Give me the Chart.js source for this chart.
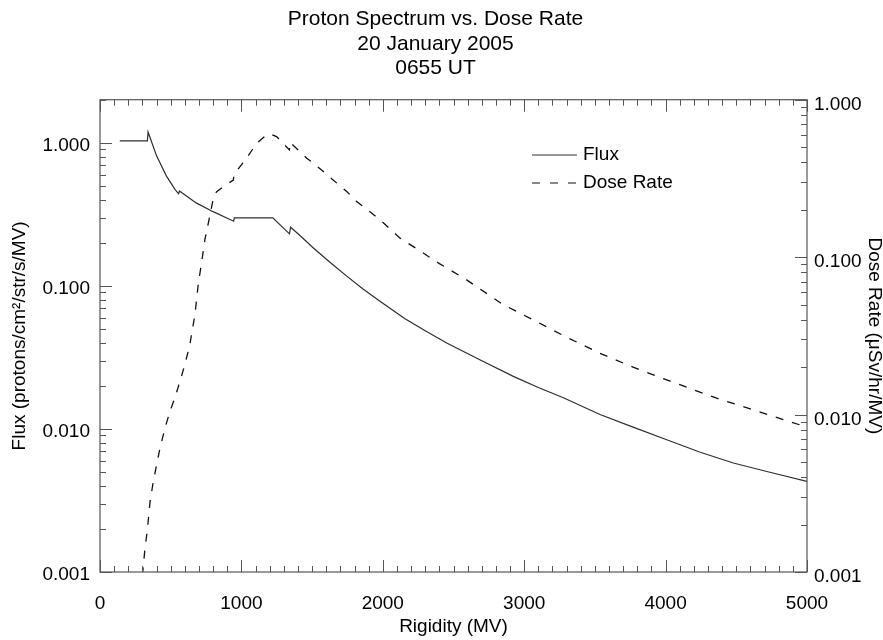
<!DOCTYPE html>
<html><head><meta charset="utf-8">
<script src="https://cdn.jsdelivr.net/npm/chart.js@4.4.1/dist/chart.umd.min.js"></script>
<style>html,body{margin:0;padding:0;background:#fff}</style>
</head><body>
<canvas id="c" width="883" height="640"></canvas>
<script>
const titleLines = ['Proton Spectrum vs. Dose Rate', '20 January 2005', '0655 UT'];
const xTickValues = [0, 1000, 2000, 3000, 4000, 5000];
const yTickValues = [0.001, 0.01, 0.1, 1];
const legendLabels = ['Flux', 'Dose Rate'];

const fluxRigidity = [140, 335, 340, 400, 470, 530, 556, 562, 680, 800, 945, 950, 1222, 1340, 1348, 1420, 1509, 1620, 1745, 1860, 1980, 2157, 2300, 2452, 2700, 2923, 3100, 3277, 3536, 3770, 4008, 4240, 4479, 4730, 5000];
const fluxValues   = [1.03, 1.03, 1.19, 0.81, 0.585, 0.472, 0.44, 0.46, 0.38, 0.33, 0.283, 0.299, 0.299, 0.231, 0.257, 0.222, 0.184, 0.148, 0.117, 0.095, 0.078, 0.0588, 0.0485, 0.0399, 0.030, 0.0233, 0.0195, 0.0165, 0.0126, 0.0103, 0.0084, 0.0069, 0.00578, 0.0050, 0.0043];

const doseRigidity = [300, 318, 335, 354, 377, 424, 460, 495, 530, 566, 601, 636, 672, 695, 719, 743, 778, 806, 825, 872, 943, 948, 1037, 1108, 1179, 1202, 1249, 1339, 1344, 1462, 1509, 1745, 1815, 1980, 2122, 2240, 2400, 2593, 2850, 3064, 3300, 3536, 3770, 4008, 4361, 4650, 4950, 5000];
const doseValues   = [0.00095, 0.00141, 0.00185, 0.0028, 0.00376, 0.00612, 0.00822, 0.0105, 0.0128, 0.0163, 0.0209, 0.028, 0.0435, 0.0676, 0.093, 0.131, 0.185, 0.248, 0.26, 0.28, 0.309, 0.336, 0.425, 0.53, 0.598, 0.607, 0.583, 0.48, 0.537, 0.425, 0.396, 0.261, 0.226, 0.173, 0.132, 0.113, 0.091, 0.0717, 0.050, 0.0399, 0.031, 0.0245, 0.020, 0.0166, 0.0127, 0.0105, 0.0086, 0.0084];

const FONT = "'Liberation Sans', Arial, Helvetica, sans-serif";
const FLUX_COLOR = '#2e2e2e';
const DOSE_COLOR = '#111111';
const DOSE_DASH = [8, 9];

const frameTicks = {
  id: 'frameTicks',
  afterDatasetsDraw(chart) {
    const {ctx, chartArea: a, scales} = chart;
    ctx.save();
    ctx.strokeStyle = '#555';
    ctx.lineWidth = 1.2;
    ctx.strokeRect(a.left, a.top, a.right - a.left, a.bottom - a.top);
    ctx.lineWidth = 1;
    ctx.beginPath();
    for (let v = 0; v <= 5000; v += 100) {
      const px = Math.round(scales.x.getPixelForValue(v)) + 0.5;
      const len = v % 1000 === 0 ? 12 : 6;
      ctx.moveTo(px, a.bottom); ctx.lineTo(px, a.bottom - len);
      ctx.moveTo(px, a.top); ctx.lineTo(px, a.top + len);
    }
    const logTicks = (scale, x0, dir) => {
      for (let k = -3; k <= 0; k++) {
        for (let m = 1; m <= 9; m++) {
          const v = m * Math.pow(10, k);
          if (v < scale.min * 0.999 || v > scale.max * 1.001) continue;
          const py = Math.round(scale.getPixelForValue(v)) + 0.5;
          const len = m === 1 ? 12 : 6;
          ctx.moveTo(x0, py); ctx.lineTo(x0 + dir * len, py);
        }
      }
    };
    logTicks(scales.y, a.left, 1);
    logTicks(scales.y2, a.right, -1);
    ctx.stroke();

    // legend
    const lx0 = 532, lx1 = 577, ty = [155, 183];
    ctx.lineWidth = 1.2;
    ctx.strokeStyle = FLUX_COLOR;
    ctx.setLineDash([]);
    ctx.beginPath(); ctx.moveTo(lx0, ty[0]); ctx.lineTo(lx1, ty[0]); ctx.stroke();
    ctx.strokeStyle = DOSE_COLOR;
    ctx.setLineDash([8, 10]);
    ctx.beginPath(); ctx.moveTo(lx0, ty[1]); ctx.lineTo(lx1 + 2, ty[1]); ctx.stroke();
    ctx.setLineDash([]);
    ctx.fillStyle = '#000';
    ctx.font = '19px ' + FONT;
    ctx.textBaseline = 'middle';
    ctx.textAlign = 'left';
    ctx.fillText(legendLabels[0], 583, ty[0]);
    ctx.fillText(legendLabels[1], 583, ty[1]);
    ctx.restore();
  }
};

const tickFont = {family: FONT, size: 19};
const logTicksCb = s => { s.ticks = yTickValues.map(v => ({value: v})); };

new Chart(document.getElementById('c'), {
  type: 'line',
  data: {
    datasets: [
      {
        label: legendLabels[0],
        data: fluxRigidity.map((x, i) => ({x, y: fluxValues[i]})),
        yAxisID: 'y',
        borderColor: FLUX_COLOR,
        borderWidth: 1.2,
        pointRadius: 0,
        tension: 0,
        fill: false
      },
      {
        label: legendLabels[1],
        data: doseRigidity.map((x, i) => ({x, y: doseValues[i]})),
        yAxisID: 'y2',
        borderColor: DOSE_COLOR,
        borderWidth: 1.3,
        borderDash: DOSE_DASH,
        pointRadius: 0,
        tension: 0,
        fill: false
      }
    ]
  },
  options: {
    responsive: false,
    animation: false,
    devicePixelRatio: 1,
    layout: {padding: {left: 0, right: 12, top: 0, bottom: 0}},
    plugins: {
      legend: {display: false},
      tooltip: {enabled: false},
      title: {
        display: true,
        text: titleLines,
        color: '#000',
        font: {family: FONT, size: 21, weight: 'normal', lineHeight: 1.17},
        padding: {top: 7, bottom: 19}
      }
    },
    scales: {
      x: {
        type: 'linear', min: 0, max: 5000,
        afterBuildTicks: s => { s.ticks = xTickValues.map(v => ({value: v})); },
        ticks: {font: tickFont, color: '#000', padding: 20, autoSkip: false, maxRotation: 0, callback: v => String(v)},
        grid: {display: false, drawTicks: false},
        border: {display: false},
        title: {display: true, text: 'Rigidity (MV)', color: '#000', font: tickFont, padding: {top: 0, bottom: 1.5}},
        afterFit: s => { s.height = 68; }
      },
      y: {
        type: 'logarithmic', position: 'left', min: 0.001, max: 2.0,
        afterBuildTicks: logTicksCb,
        ticks: {font: tickFont, color: '#000', padding: 10, labelOffset: 3, autoSkip: false, callback: v => Number(v).toFixed(3)},
        grid: {display: false, drawTicks: false},
        border: {display: false},
        title: {display: true, text: 'Flux (protons/cm²/str/s/MV)', color: '#000', font: tickFont, padding: {top: 8, bottom: 0}},
        afterFit: s => { s.width = 100; }
      },
      y2: {
        type: 'logarithmic', position: 'right', min: 0.001, max: 1.0,
        afterBuildTicks: logTicksCb,
        ticks: {font: tickFont, color: '#000', padding: 7, labelOffset: 5, autoSkip: false, callback: v => Number(v).toFixed(3)},
        grid: {display: false, drawTicks: false},
        border: {display: false},
        title: {display: true, text: 'Dose Rate (μSv/hr/MV)', color: '#000', font: tickFont, padding: {top: -14.5, bottom: 0}},
        afterFit: s => { s.width = 64; }
      }
    }
  },
  plugins: [frameTicks]
});
</script>
</body></html>
